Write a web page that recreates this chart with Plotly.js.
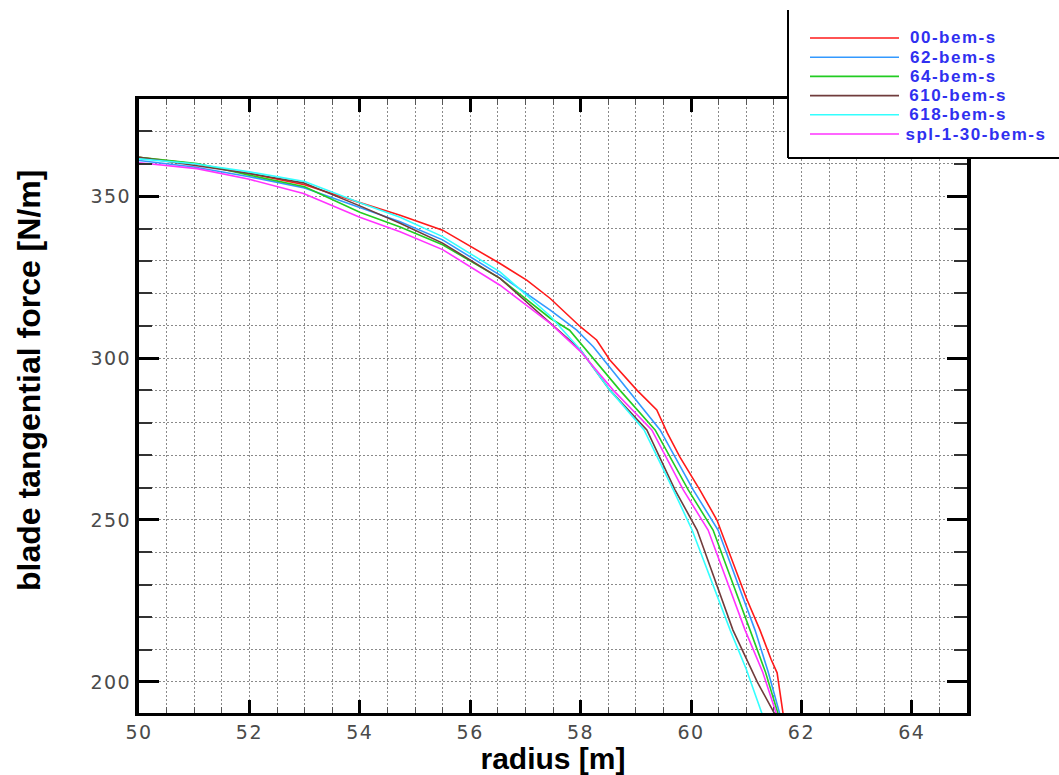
<!DOCTYPE html>
<html>
<head>
<meta charset="utf-8">
<script src="https://cdn.plot.ly/plotly-3.0.1.min.js"></script>
<style>
  html, body { margin: 0; padding: 0; background: #ffffff; }
  #chart { width: 1059px; height: 775px; }
  /* wide-set numerals on both axes and in the key */
  #chart .xtick text, #chart .ytick text { letter-spacing: 1.5px; }
  #chart .annotation-text.keytext { letter-spacing: 1.5px; }
</style>
</head>
<body>
<div id="chart"></div>
<script>
// Blade tangential force along the outer span, one curve per BEM case.
const seriesNames = ['00-bem-s', '62-bem-s', '64-bem-s', '610-bem-s', '618-bem-s', 'spl-1-30-bem-s'];
const seriesColors = ['#ff1a1a', '#3399ff', '#22cc22', '#703c3c', '#33ffff', '#ff33ff'];

// radius [m] / force [N/m] pairs for each case
const r00 = [50, 51, 52, 53, 54, 54.73, 55.5, 56.54, 57.03, 57.45, 58, 58.29, 58.53, 59.02, 59.38, 59.57, 59.8, 60.16, 60.47, 60.76, 61, 61.25, 61.45, 61.56, 61.67];
const f00 = [362, 360, 357, 353.5, 348, 344.1, 339.5, 329.2, 324, 318.4, 309.6, 305.6, 299.4, 290.1, 284, 276.9, 269.4, 259.3, 250, 236.7, 226, 216, 207, 202.8, 190];

const r62 = [50, 51, 52, 53, 54, 54.73, 55.5, 56.54, 57.45, 57.93, 58.23, 58.87, 59.44, 60.04, 60.49, 61.16, 61.4, 61.61];
const f62 = [361, 359, 356, 352.5, 346.5, 342.1, 336.5, 325.6, 314.8, 308.6, 303.5, 290.1, 277.8, 259.3, 246.9, 216, 203, 190];

const r64 = [50, 51.05, 52, 53, 54, 54.73, 55.5, 56.54, 57.45, 57.8, 58.71, 59.35, 59.95, 60.4, 61.07, 61.35, 61.58];
const f64 = [362, 360.1, 356.5, 352.9, 345, 340.5, 335, 324.6, 312.3, 308.6, 290.1, 277.8, 259.3, 246.9, 216, 203, 190];

const r610 = [50, 51, 52, 52.98, 54, 54.73, 55.5, 56.54, 57.45, 58, 58.53, 59.2, 59.71, 60.11, 60.76, 61.2, 61.52];
const f610 = [362, 359.5, 357, 354.1, 347, 341.6, 335.5, 324.6, 311, 302.5, 290.1, 277.8, 259.3, 246.9, 216, 200, 190];

const r618 = [50, 51, 52, 53, 54, 54.73, 55.5, 56.54, 57.45, 58, 58.53, 59.15, 59.68, 60.02, 60.71, 61.0, 61.29];
const f618 = [361.5, 360, 357.5, 354.5, 348, 343.5, 337.5, 326.6, 313, 302.5, 290.1, 277.8, 259.3, 246.9, 216, 204, 190];

const rSpl = [50, 51.05, 52, 52.98, 54, 54.73, 55.5, 56.54, 57.45, 58, 58.59, 59.29, 59.86, 60.31, 60.98, 61.3, 61.55];
const fSpl = [360.3, 358.5, 355.2, 350.8, 343.5, 339, 333.5, 322.5, 310.7, 302, 290.1, 277.8, 259.3, 246.9, 216, 203, 190];

const radii = [r00, r62, r64, r610, r618, rSpl];
const forces = [f00, f62, f64, f610, f618, fSpl];

const traces = seriesNames.map((name, i) => ({
  type: 'scatter',
  mode: 'lines',
  name: name,
  x: radii[i],
  y: forces[i],
  line: { color: seriesColors[i], width: 1.6 },
  showlegend: false
}));

// Plot area in pixels, used to place the key and the side title in paper units
const plotL = 139, plotR = 967, plotT = 99, plotB = 713;
const px = v => (v - plotL) / (plotR - plotL);
const py = v => (plotB - v) / (plotB - plotT);

// Key panel: white background with left and bottom borders (it runs off the page edges)
const shapes = [
  { type: 'rect', xref: 'paper', yref: 'paper', layer: 'above',
    x0: px(788), x1: px(1064), y0: py(158), y1: py(10),
    fillcolor: '#ffffff', line: { width: 0 } },
  { type: 'line', xref: 'paper', yref: 'paper', layer: 'above',
    x0: px(788), x1: px(788), y0: py(158), y1: py(10),
    line: { color: '#000000', width: 2 } },
  { type: 'line', xref: 'paper', yref: 'paper', layer: 'above',
    x0: px(788), x1: px(1064), y0: py(158), y1: py(158),
    line: { color: '#000000', width: 2 } }
];
const annotations = [];
seriesNames.forEach((name, i) => {
  const yy = 38 + i * 19.2;
  shapes.push({
    type: 'line', xref: 'paper', yref: 'paper', layer: 'above',
    x0: px(810), x1: px(899), y0: py(yy), y1: py(yy),
    line: { color: seriesColors[i], width: 1.6 }
  });
  annotations.push({
    xref: 'paper', yref: 'paper', x: px(914), y: py(yy),
    xanchor: 'left', yanchor: 'middle', showarrow: false,
    text: '<b>' + name + '</b>',
    font: { family: 'Liberation Sans, Arial, sans-serif', size: 17, color: '#3030f0' }
  });
});

// Vertical axis title, set a little above the middle of the axis
annotations.push({
  xref: 'paper', yref: 'paper', x: px(29), y: py(381),
  xanchor: 'center', yanchor: 'middle', showarrow: false, textangle: -90,
  text: '<b>blade tangential force [N/m]</b>',
  font: { family: 'Liberation Sans, Arial, sans-serif', size: 32, color: '#000000' }
});

const gridDash = '2px,2px';
const tickFont = { family: 'DejaVu Sans, Verdana, sans-serif', size: 19, color: '#4a4a4a' };
const layout = {
  width: 1059, height: 775,
  margin: { l: plotL, r: 1059 - plotR, t: plotT, b: 775 - plotB, pad: 0 },
  paper_bgcolor: '#ffffff', plot_bgcolor: '#ffffff',
  font: { family: 'Liberation Sans, Arial, sans-serif' },
  xaxis: {
    range: [50, 65], dtick: 2, tick0: 50,
    ticks: 'inside', ticklen: 13, tickwidth: 3, tickcolor: '#000000',
    showline: true, linewidth: 3, linecolor: '#000000', mirror: 'allticks',
    showgrid: true, gridcolor: '#8a8a8a', gridwidth: 1, griddash: gridDash,
    zeroline: false,
    tickfont: tickFont,
    minor: { dtick: 0.5, ticks: 'inside', ticklen: 6, tickcolor: '#555555', tickwidth: 1,
             showgrid: true, gridcolor: '#8a8a8a', gridwidth: 1, griddash: gridDash },
    title: { text: '<b>radius [m]</b>', standoff: 3,
             font: { size: 30, color: '#000000', family: 'Liberation Sans, Arial, sans-serif' } }
  },
  yaxis: {
    range: [190.4, 380], dtick: 50, tick0: 200,
    ticks: 'inside', ticklen: 20, tickwidth: 3, tickcolor: '#000000',
    showline: true, linewidth: 4, linecolor: '#000000', mirror: 'allticks',
    showgrid: true, gridcolor: '#8a8a8a', gridwidth: 1, griddash: gridDash,
    zeroline: false,
    tickfont: tickFont,
    minor: { dtick: 10, ticks: 'inside', ticklen: 13, tickcolor: '#333333', tickwidth: 2,
             showgrid: true, gridcolor: '#8a8a8a', gridwidth: 1, griddash: gridDash }
  },
  shapes: shapes,
  annotations: annotations,
  showlegend: false
};

Plotly.newPlot('chart', traces, layout, { displayModeBar: false, staticPlot: true }).then(gd => {
  // letter-spacing only for the key entries
  gd.querySelectorAll('.annotation').forEach((g, i) => {
    if (i < seriesNames.length) {
      const t = g.querySelector('.annotation-text');
      if (t) t.classList.add('keytext');
    }
  });
});
</script>
</body>
</html>
